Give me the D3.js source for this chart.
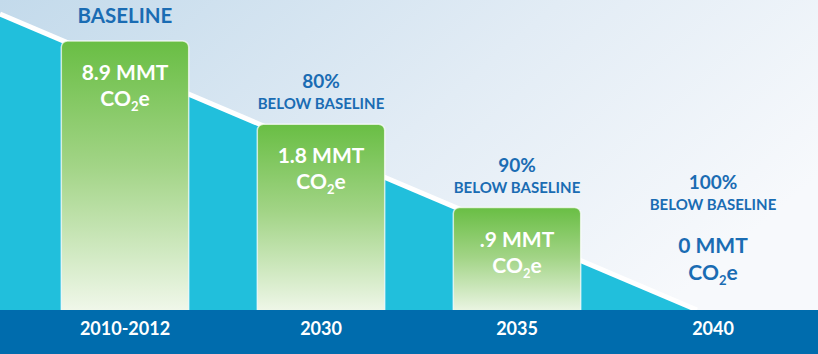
<!DOCTYPE html>
<html>
<head>
<meta charset="utf-8">
<script src="https://cdn.jsdelivr.net/npm/d3@7"></script>
<style>
  html, body { margin: 0; padding: 0; background: #fff; }
  svg { display: block; font-family: Lato, 'Open Sans', sans-serif; font-weight: 700; }
</style>
</head>
<body>
<svg id="chart" width="818" height="354"></svg>
<script>
const periods = ['2010-2012', '2030', '2035', '2040'];
const emissions = [8.9, 1.8, 0.9, 0]; // MMT CO2e
const emissionLabels = ['8.9 MMT', '1.8 MMT', '.9 MMT', '0 MMT'];
const reductions = [null, 80, 90, 100]; // % below baseline

const data = periods.map((p, i) => ({
  period: p,
  value: emissions[i],
  label: emissionLabels[i],
  reduction: reductions[i]
}));

const svg = d3.select('#chart');
const width = +svg.attr('width');
const height = +svg.attr('height');
const baseY = 310; // top of the dark band

const defs = svg.append('defs');
const bg = defs.append('linearGradient').attr('id', 'bg')
  .attr('x1', 0).attr('y1', 0).attr('x2', 1).attr('y2', 0.5);
bg.append('stop').attr('offset', '0%').attr('stop-color', '#c3daeb');
bg.append('stop').attr('offset', '55%').attr('stop-color', '#e2ecf5');
bg.append('stop').attr('offset', '100%').attr('stop-color', '#f7f9fc');

const barGrad = defs.append('linearGradient').attr('id', 'bar')
  .attr('x1', 0).attr('y1', 0).attr('x2', 0).attr('y2', 1);
barGrad.append('stop').attr('offset', '0%').attr('stop-color', '#69be44');
barGrad.append('stop').attr('offset', '45%').attr('stop-color', '#a2d486');
barGrad.append('stop').attr('offset', '100%').attr('stop-color', '#f4f9ef');

svg.append('rect').attr('width', width).attr('height', height).attr('fill', 'url(#bg)');

const x = d3.scaleBand()
  .domain(periods)
  .range([27, 811])
  .paddingInner(0.35)
  .paddingOuter(0.175);

// declining trend that the bars step down along
const trend = d3.scaleLinear().domain([0, 697]).range([14, baseY]);

const area = d3.area().x(d => d).y0(baseY).y1(d => trend(d));
svg.append('path')
  .datum(trend.domain())
  .attr('d', area)
  .attr('fill', '#21bfdc');

svg.append('path')
  .datum(trend.domain())
  .attr('d', d3.line().x(d => d).y(d => trend(d)))
  .attr('stroke', '#fff')
  .attr('stroke-width', 5)
  .attr('fill', 'none');

const barTop = d => (d.value > 0 ? trend(x(d.period)) + 1 : baseY - 85);

const bars = svg.selectAll('g.bar')
  .data(data.filter(d => d.value > 0))
  .enter()
  .append('g')
  .attr('class', 'bar');

bars.append('rect')
  .attr('x', d => x(d.period))
  .attr('y', barTop)
  .attr('width', x.bandwidth())
  .attr('height', d => baseY - barTop(d) + 8)
  .attr('rx', 6)
  .attr('fill', 'url(#bar)')
  .attr('stroke', 'rgba(255,255,255,0.7)')
  .attr('stroke-width', 1.5);

const cx = d => x(d.period) + x.bandwidth() / 2;

const labels = svg.selectAll('g.label')
  .data(data)
  .enter()
  .append('g')
  .attr('class', 'label')
  .attr('text-anchor', 'middle');

labels.append('text')
  .attr('x', cx)
  .attr('y', d => barTop(d) + (d.value > 0 ? 39 : 28))
  .attr('font-size', 21)
  .attr('fill', d => (d.value > 0 ? '#fff' : '#1a6cb3'))
  .text(d => d.label);

const co2 = labels.append('text')
  .attr('x', cx)
  .attr('y', d => barTop(d) + (d.value > 0 ? 65 : 55))
  .attr('font-size', 21)
  .attr('fill', d => (d.value > 0 ? '#fff' : '#1a6cb3'));
co2.append('tspan').text('CO');
co2.append('tspan').attr('font-size', 13).attr('dy', 5).text('2');
co2.append('tspan').attr('dy', -5).text('e');

// headers above the bars
labels.filter(d => d.reduction == null)
  .append('text')
  .attr('x', cx)
  .attr('y', d => barTop(d) - 18)
  .attr('font-size', 20.5)
  .attr('fill', '#1a6cb3')
  .text('BASELINE');

labels.filter(d => d.reduction != null)
  .append('text')
  .attr('x', cx)
  .attr('y', d => barTop(d) - 36)
  .attr('font-size', 19)
  .attr('fill', '#1a6cb3')
  .text(d => d.reduction + '%');

labels.filter(d => d.reduction != null)
  .append('text')
  .attr('x', cx)
  .attr('y', d => barTop(d) - 15)
  .attr('font-size', 15)
  .attr('fill', '#1a6cb3')
  .text('BELOW BASELINE');

svg.append('rect')
  .attr('x', 0).attr('y', baseY)
  .attr('width', width).attr('height', height - baseY)
  .attr('fill', '#006cad');

svg.append('g')
  .attr('transform', `translate(0,${baseY})`)
  .call(d3.axisBottom(x).tickSize(0).tickPadding(12))
  .call(g => g.select('.domain').remove())
  .call(g => g.selectAll('text')
    .attr('fill', '#fff')
    .attr('font-size', 18)
    .attr('font-family', 'Lato, sans-serif')
    .attr('font-weight', 700)
    .attr('dy', '0.71em'));
</script>
</body>
</html>
